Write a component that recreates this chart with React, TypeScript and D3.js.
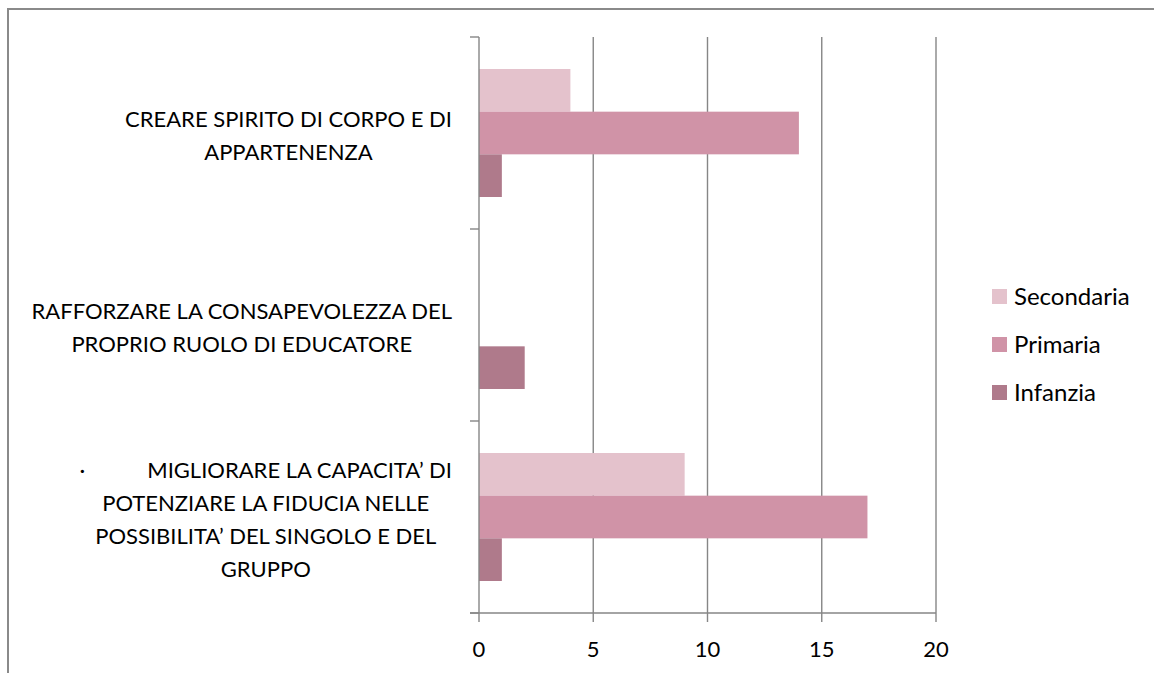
import React, { useEffect, useRef } from "react";
import * as d3 from "d3";

const categories = ["cat1", "cat2", "cat3"];
const categoryLines: string[][] = [
  ["CREARE SPIRITO DI CORPO E DI", "APPARTENENZA"],
  ["RAFFORZARE LA CONSAPEVOLEZZA DEL", "PROPRIO RUOLO DI EDUCATORE"],
  [
    "·" + "\u00A0".repeat(11) + "MIGLIORARE LA CAPACITA’ DI",
    "POTENZIARE LA FIDUCIA NELLE",
    "POSSIBILITA’ DEL SINGOLO E DEL",
    "GRUPPO",
  ],
];
const seriesNames = ["Secondaria", "Primaria", "Infanzia"];
const secondaria = [4, 0, 9];
const primaria = [14, 0, 17];
const infanzia = [1, 2, 1];
const seriesColors = ["#e4c2cc", "#d093a7", "#af7a8b"];
const xTicks = [0, 5, 10, 15, 20];

const FONT = "Lato, 'Open Sans', sans-serif";
const FS = 22;

export default function App() {
  const ref = useRef<SVGSVGElement>(null);

  useEffect(() => {
    const svg = d3.select(ref.current);
    svg.selectAll("*").remove();
    const W = 1154, H = 673;

    // frame
    svg.append("line").attr("x1", 7).attr("x2", W).attr("y1", 9).attr("y2", 9)
      .attr("stroke", "#8a8a8a").attr("stroke-width", 2);
    svg.append("line").attr("x1", 8).attr("x2", 8).attr("y1", 8).attr("y2", H)
      .attr("stroke", "#8a8a8a").attr("stroke-width", 2);

    const x = d3.scaleLinear().domain([0, 20]).range([479, 936]);
    const y = d3.scaleBand<string>().domain(categories).range([37, 613]);
    const ys = d3.scaleBand<string>().domain(seriesNames).range([0, y.bandwidth()])
      .paddingInner(0).paddingOuter(0.75);

    const axisColor = "#868686";
    const g = svg.append("g");

    // gridlines
    xTicks.filter((t) => t !== 0).forEach((t) => {
      g.append("line").attr("x1", x(t)).attr("x2", x(t)).attr("y1", y.range()[0]).attr("y2", y.range()[1] + 9)
        .attr("stroke", axisColor).attr("stroke-width", 1.4);
    });

    const values = [secondaria, primaria, infanzia];
    seriesNames.forEach((s, si) => {
      categories.forEach((c, ci) => {
        const v = values[si][ci];
        if (v <= 0) return;
        g.append("rect")
          .attr("x", x(0))
          .attr("y", (y(c) as number) + (ys(s) as number))
          .attr("width", x(v) - x(0))
          .attr("height", ys.bandwidth())
          .attr("fill", seriesColors[si]);
      });
    });

    // vertical axis
    g.append("line").attr("x1", x(0)).attr("x2", x(0)).attr("y1", y.range()[0]).attr("y2", y.range()[1] + 9)
      .attr("stroke", axisColor).attr("stroke-width", 1.4);
    const bounds = [...categories.map((c) => y(c) as number), y.range()[1]];
    bounds.forEach((b) => {
      g.append("line").attr("x1", x(0) - 9).attr("x2", x(0)).attr("y1", b).attr("y2", b)
        .attr("stroke", axisColor).attr("stroke-width", 1.4);
    });
    // horizontal axis
    g.append("line").attr("x1", x(0) - 9).attr("x2", x(20)).attr("y1", y.range()[1]).attr("y2", y.range()[1])
      .attr("stroke", axisColor).attr("stroke-width", 1.4);

    xTicks.forEach((t) => {
      g.append("text").attr("x", x(t)).attr("y", y.range()[1] + 44)
        .attr("text-anchor", "middle").attr("font-family", FONT).attr("font-size", FS)
        .attr("fill", "#000").text(String(t));
    });

    // category labels
    const lineH = 33;
    categories.forEach((c, ci) => {
      const lines = categoryLines[ci];
      const cy = (y(c) as number) + y.bandwidth() / 2;
      const tg = g.append("g");
      const texts = lines.map((ln, li) =>
        tg.append("text")
          .attr("y", cy + 10 + (li - (lines.length - 1) / 2) * lineH)
          .attr("font-family", FONT).attr("font-size", FS).attr("fill", "#000")
          .attr("text-anchor", "middle")
          .style("white-space", "pre")
          .text(ln)
      );
      const widths = texts.map((t) => (t.node() as SVGTextElement).getComputedTextLength());
      const maxW = Math.max(...widths);
      const right = x(0) - 27;
      texts.forEach((t) => t.attr("x", right - maxW / 2));
    });

    // legend
    seriesNames.forEach((s, si) => {
      const ly = 289 + si * 48;
      g.append("rect").attr("x", 992).attr("y", ly).attr("width", 15).attr("height", 15).attr("fill", seriesColors[si]);
      g.append("text").attr("x", 1014).attr("y", ly + 16).attr("font-family", FONT).attr("font-size", 24)
        .attr("fill", "#000").text(s);
    });
  }, []);

  return (
    <svg ref={ref} width={1154} height={673}
      style={{ position: "absolute", left: 0, top: 0, background: "#fff" }} />
  );
}
